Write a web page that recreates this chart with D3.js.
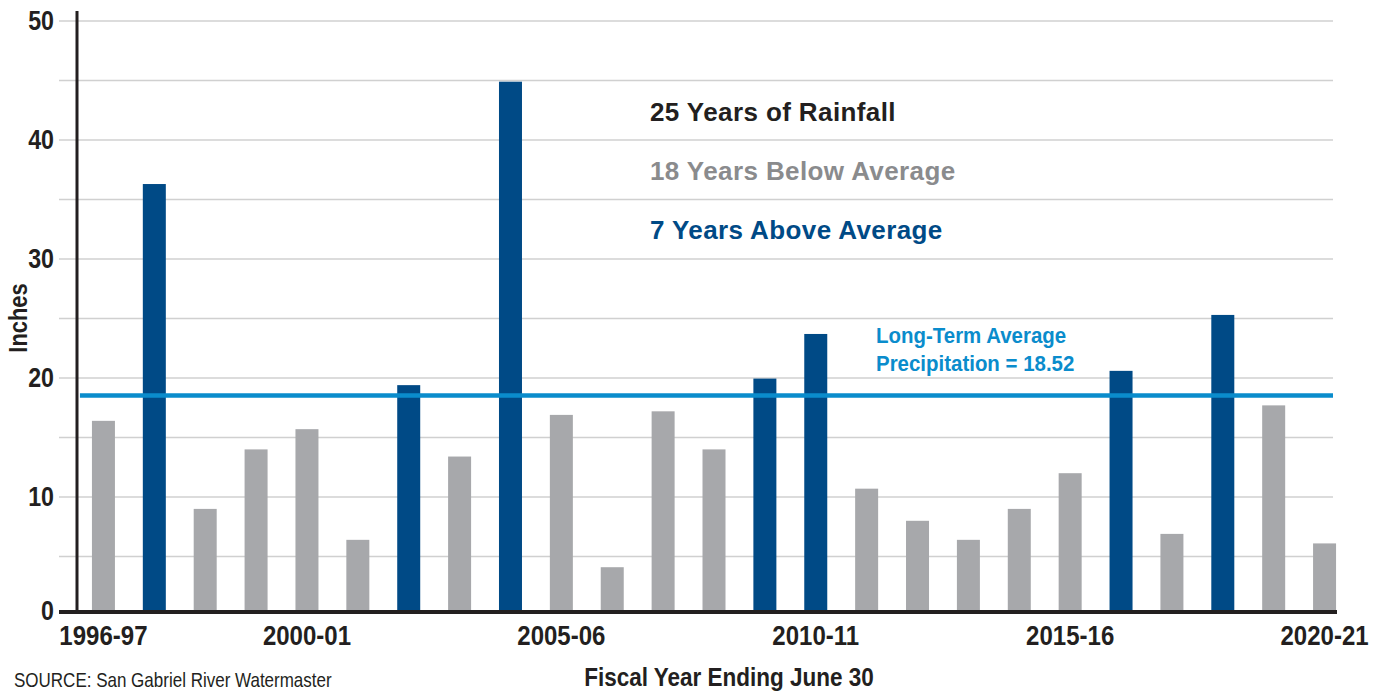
<!DOCTYPE html>
<html>
<head>
<meta charset="utf-8">
<script src="https://cdn.jsdelivr.net/npm/d3@7"></script>
<style>
  html, body { margin: 0; padding: 0; background: #fff; }
  svg { display: block; }
  text { font-family: "Liberation Sans", Arial, Helvetica, sans-serif; }
  .bold { font-weight: bold; }
</style>
</head>
<body>
<svg id="chart" width="1382" height="691"></svg>
<script>
// Fiscal years (ending June 30)
const years = [
  "1996-97", "1997-98", "1998-99", "1999-00", "2000-01",
  "2001-02", "2002-03", "2003-04", "2004-05", "2005-06",
  "2006-07", "2007-08", "2008-09", "2009-10", "2010-11",
  "2011-12", "2012-13", "2013-14", "2014-15", "2015-16",
  "2016-17", "2017-18", "2018-19", "2019-20", "2020-21"
];
// Annual precipitation, inches
const rainfall = [
  16.4, 36.3, 9.0, 14.0, 15.7,
  6.4, 19.4, 13.4, 44.9, 16.9,
  4.1, 17.2, 14.0, 19.95, 23.7,
  10.7, 8.0, 6.4, 9.0, 12.0,
  20.6, 6.9, 25.3, 17.7, 6.1
];
const longTermAverage = 18.52;
const yTicks = [0, 10, 20, 30, 40, 50];
const gridValues = [5, 10, 15, 20, 25, 30, 35, 40, 45, 50];
const xTickLabels = ["1996-97", "2000-01", "2005-06", "2010-11", "2015-16", "2020-21"];
const summaryLines = ["25 Years of Rainfall", "18 Years Below Average", "7 Years Above Average"];
const averageLabel = ["Long-Term Average", "Precipitation = 18.52"];

const COLORS = {
  above: "#004a86",
  below: "#a7a8ab",
  average: "#0a8ccc",
  grid: "#d0d0d0",
  axis: "#231f20",
  gray: "#8a8b8d"
};

const svg = d3.select("#chart");

const x = d3.scaleBand()
  .domain(years)
  .range([78, 1350])
  .paddingInner(0.548)
  .paddingOuter(0.274);

const y = d3.scaleLinear().domain([0, 50]).range([616, 21]);
const baseY = 612;        // heavy baseline sits just above zero
const axisX = 77;
const gridLeft = 59, gridRight = 1333;

// position a text at (px, py), squeezed horizontally to imitate a condensed face
const place = (px, py, sx) => `translate(${px},${py}) scale(${sx},1)`;

// horizontal gridlines
svg.append("g")
  .selectAll("line")
  .data(gridValues)
  .join("line")
  .attr("x1", gridLeft).attr("x2", gridRight)
  .attr("y1", d => y(d)).attr("y2", d => y(d))
  .attr("stroke", COLORS.grid)
  .attr("stroke-width", 1.6);

// bars
svg.append("g")
  .selectAll("rect")
  .data(years.map((yr, i) => ({ yr, v: rainfall[i] })))
  .join("rect")
  .attr("x", d => x(d.yr))
  .attr("width", x.bandwidth())
  .attr("y", d => y(d.v))
  .attr("height", d => baseY - y(d.v))
  .attr("fill", d => d.v > longTermAverage ? COLORS.above : COLORS.below);

// long-term average line
svg.append("line")
  .attr("x1", x(years[0]) - 12).attr("x2", gridRight)
  .attr("y1", y(longTermAverage)).attr("y2", y(longTermAverage))
  .attr("stroke", COLORS.average)
  .attr("stroke-width", 4.5);

// y axis line and baseline
svg.append("line")
  .attr("x1", axisX).attr("x2", axisX)
  .attr("y1", 11).attr("y2", baseY + 2)
  .attr("stroke", COLORS.axis).attr("stroke-width", 3);
svg.append("line")
  .attr("x1", gridLeft).attr("x2", 1337)
  .attr("y1", baseY).attr("y2", baseY)
  .attr("stroke", COLORS.axis).attr("stroke-width", 4);

// y tick labels
svg.append("g")
  .selectAll("text")
  .data(yTicks)
  .join("text")
  .attr("class", "bold")
  .attr("transform", d => place(54, (d === 0 ? baseY - 1 : y(d)) + 9, 0.86))
  .attr("text-anchor", "end")
  .attr("font-size", 27)
  .attr("fill", COLORS.axis)
  .text(d => d);

// x tick labels
svg.append("g")
  .selectAll("text")
  .data(xTickLabels)
  .join("text")
  .attr("class", "bold")
  .attr("transform", d => place(x(d) + x.bandwidth() / 2, 645, 0.89))
  .attr("text-anchor", "middle")
  .attr("font-size", 27)
  .attr("fill", COLORS.axis)
  .text(d => d);

// axis titles
svg.append("text")
  .attr("class", "bold")
  .attr("transform", "translate(27,318) rotate(-90) scale(0.86,1)")
  .attr("text-anchor", "middle")
  .attr("font-size", 25.5)
  .attr("fill", COLORS.axis)
  .text("Inches");

svg.append("text")
  .attr("class", "bold")
  .attr("transform", place(729, 686, 0.9))
  .attr("text-anchor", "middle")
  .attr("font-size", 25)
  .attr("fill", COLORS.axis)
  .text("Fiscal Year Ending June 30");

svg.append("text")
  .attr("transform", place(14, 687, 0.81))
  .attr("font-size", 21)
  .attr("fill", COLORS.axis)
  .text("SOURCE: San Gabriel River Watermaster");

// summary block
const summaryColors = [COLORS.axis, COLORS.gray, COLORS.above];
svg.append("g")
  .selectAll("text")
  .data(summaryLines)
  .join("text")
  .attr("class", "bold")
  .attr("x", 650)
  .attr("y", (d, i) => 121 + i * 59.2)
  .attr("font-size", 26)
  .attr("letter-spacing", 0.4)
  .attr("fill", (d, i) => summaryColors[i])
  .text(d => d);

// average annotation
svg.append("g")
  .selectAll("text")
  .data(averageLabel)
  .join("text")
  .attr("class", "bold")
  .attr("transform", (d, i) => place(876, 343 + i * 27.7, 0.93))
  .attr("font-size", 22)
  .attr("fill", COLORS.average)
  .text(d => d);
</script>
</body>
</html>
